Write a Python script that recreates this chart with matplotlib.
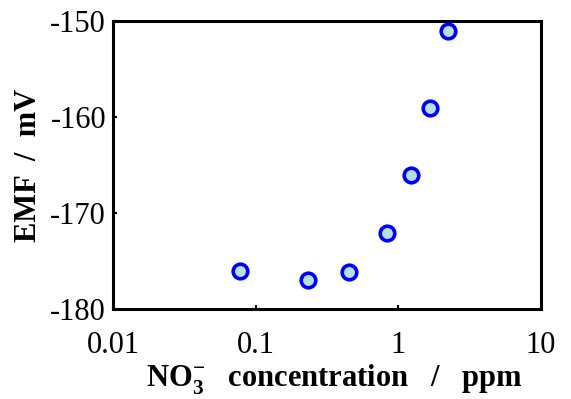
import matplotlib
matplotlib.use("Agg")
import matplotlib.pyplot as plt
from matplotlib.ticker import FixedLocator, NullLocator

# data
conc_ppm = [0.078, 0.232, 0.453, 0.833, 1.23, 1.67, 2.22]
emf_mv = [-176.0, -177.0, -176.1, -172.1, -166.0, -159.1, -151.0]

x_ticks = [0.01, 0.1, 1, 10]
x_tick_labels = ["0.01", "0.1", "1", "10"]
y_ticks = [-180, -170, -160, -150]

plt.rcParams['font.family'] = ['Liberation Serif', 'DejaVu Serif']
plt.rcParams['axes.unicode_minus'] = False
plt.rcParams['mathtext.fontset'] = 'custom'
plt.rcParams['mathtext.rm'] = 'Liberation Serif'
plt.rcParams['mathtext.bf'] = 'Liberation Serif:bold'

fig = plt.figure(figsize=(5.71, 3.99), dpi=100)
ax = fig.add_axes([113 / 571, 1 - 309 / 399, 428 / 571, 288 / 399])

ax.plot(conc_ppm, emf_mv, linestyle='none', marker='o', ms=10.5,
        mfc='#b8e0e4', mec='#0000ff', mew=2.6, clip_on=False, zorder=5)

ax.set_xscale('log')
ax.set_xlim(0.01, 10)
ax.set_ylim(-180, -150)
ax.xaxis.set_major_locator(FixedLocator(x_ticks))
ax.xaxis.set_minor_locator(NullLocator())
ax.set_xticklabels(x_tick_labels)
ax.set_yticks(y_ticks)

for s in ax.spines.values():
    s.set_linewidth(2.2)
ax.tick_params(direction='in', length=3, width=1.5, labelsize=22)
ax.tick_params(axis='x', pad=16)
ax.tick_params(axis='y', pad=5)

ax.set_xlabel(r"NO$_\mathbf{3}^{\mathbf{-}}$   concentration   /   ppm",
              fontsize=22, fontweight='bold')
ax.xaxis.set_label_coords(0.518, -0.185)
ax.set_ylabel("EMF  /  mV", fontsize=22, fontweight='bold', labelpad=5)

fig.savefig("out.png", dpi=100)
